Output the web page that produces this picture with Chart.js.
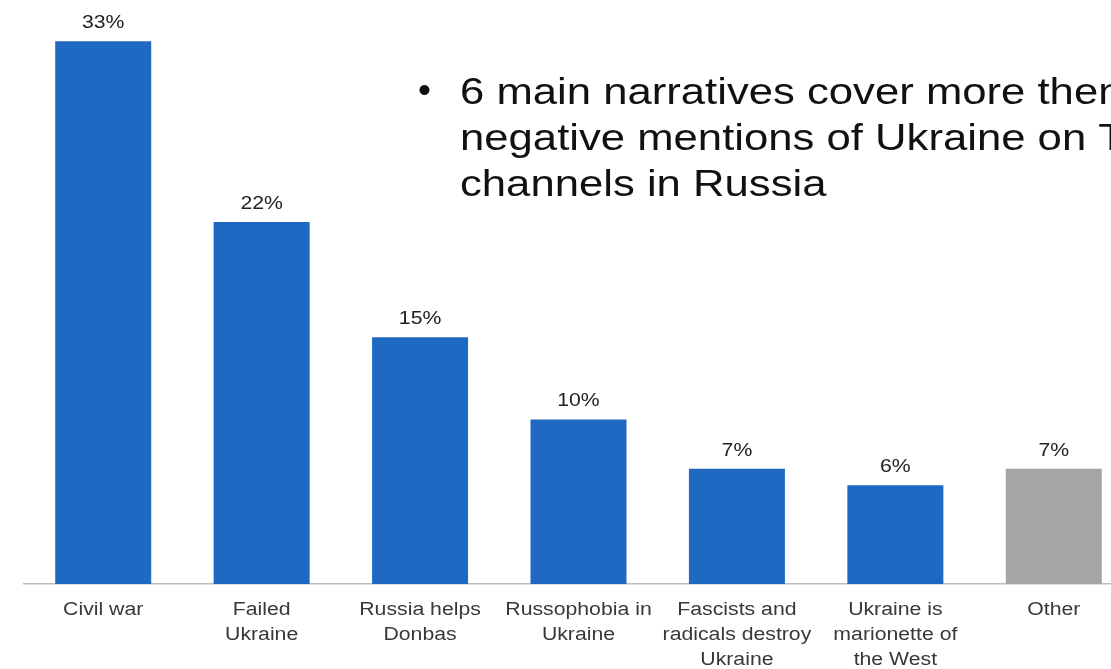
<!DOCTYPE html>
<html>
<head>
<meta charset="utf-8">
<script src="https://cdn.jsdelivr.net/npm/chart.js@4/dist/chart.umd.min.js"></script>
<style>
  html, body { margin: 0; padding: 0; background: #fff; overflow: hidden; }
  #wrap { position: relative; width: 1133px; height: 669px; }
</style>
</head>
<body>
<div id="wrap"><canvas id="c"></canvas></div>
<script>
// Share of negative mentions by narrative (%)
const categories = [
  ['Civil war'],
  ['Failed', 'Ukraine'],
  ['Russia helps', 'Donbas'],
  ['Russophobia in', 'Ukraine'],
  ['Fascists and', 'radicals destroy', 'Ukraine'],
  ['Ukraine is', 'marionette of', 'the West'],
  ['Other']
];
const shares = [33, 22, 15, 10, 7, 6, 7];
const barColors = ['#1f69c3', '#1f69c3', '#1f69c3', '#1f69c3', '#1f69c3', '#1f69c3', '#a5a5a5'];
const noteLines = [
  '6 main narratives cover more then',
  'negative mentions of Ukraine on TV',
  'channels in Russia'
];

const FONT = '"Liberation Sans", Arial, Helvetica, sans-serif';
const STRETCH = 1.18; // slide text is set slightly wide

function wideText(ctx, text, x, y) {
  ctx.save();
  ctx.translate(x, y);
  ctx.scale(STRETCH, 1);
  ctx.fillText(text, 0, 0);
  ctx.restore();
}

// Percent labels above the bars and category names below the axis
const barText = {
  id: 'barText',
  afterDatasetsDraw(chart) {
    const ctx = chart.ctx;
    const meta = chart.getDatasetMeta(0);
    const xs = chart.scales.x;
    const base = chart.chartArea.bottom;
    ctx.save();
    ctx.textAlign = 'center';
    ctx.textBaseline = 'middle';
    ctx.font = '18px ' + FONT;
    ctx.fillStyle = '#222';
    meta.data.forEach((bar, i) => wideText(ctx, shares[i] + '%', bar.x, bar.y - 18));
    ctx.fillStyle = '#383838';
    categories.forEach((lines, i) => {
      const cx = xs.getPixelForValue(i);
      lines.forEach((t, j) => wideText(ctx, t, cx, base + 26 + j * 25));
    });
    ctx.restore();
  }
};

// Bulleted note in the upper right
const note = {
  id: 'note',
  afterDraw(chart) {
    const ctx = chart.ctx;
    ctx.save();
    ctx.font = '37px ' + FONT;
    ctx.fillStyle = '#111';
    ctx.textAlign = 'left';
    ctx.textBaseline = 'middle';
    ctx.fillText('\u2022', 418, 92);
    noteLines.forEach((t, i) => wideText(ctx, t, 460, 94 + i * 46));
    ctx.restore();
  }
};

new Chart(document.getElementById('c'), {
  type: 'bar',
  data: {
    labels: categories,
    datasets: [{
      data: shares,
      backgroundColor: barColors,
      borderWidth: 0,
      barPercentage: 0.606,
      categoryPercentage: 1
    }]
  },
  options: {
    responsive: true,
    maintainAspectRatio: false,
    animation: false,
    events: [],
    layout: { padding: { left: 24, right: 0, top: 0, bottom: 0 } },
    plugins: { legend: { display: false }, tooltip: { enabled: false } },
    scales: {
      x: {
        grid: { display: false, drawTicks: false },
        border: { display: true, color: '#bdbdbd', width: 1.5 },
        ticks: { display: false },
        afterFit(scale) { scale.height = 85; }
      },
      y: {
        display: false,
        min: 0,
        max: 35.5
      }
    }
  },
  plugins: [barText, note]
});
</script>
</body>
</html>
